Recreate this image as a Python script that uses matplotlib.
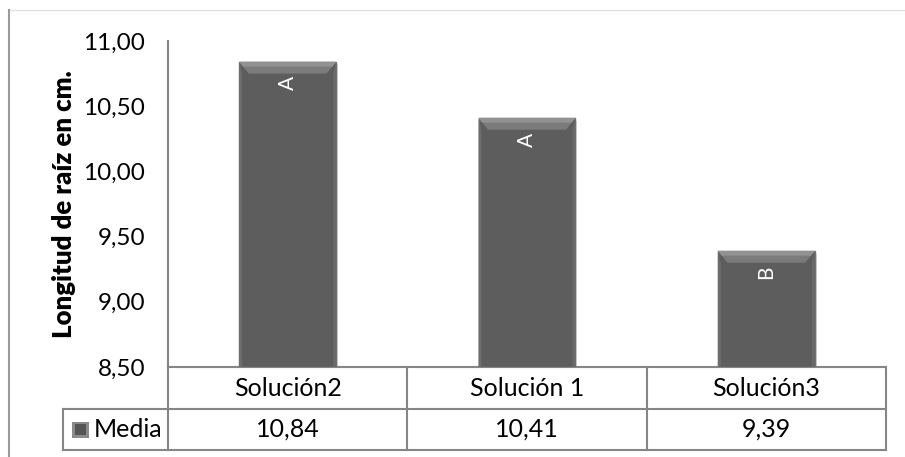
import matplotlib.pyplot as plt
import matplotlib as mpl
from matplotlib.patches import Polygon, Rectangle
from matplotlib.lines import Line2D

mpl.rc('font', family=['Lato', 'DejaVu Sans'], size=14)

categorias = ['Solución2', 'Solución 1', 'Solución3']
media = [10.84, 10.41, 9.39]
letras = ['A', 'A', 'B']
serie = 'Media'
yticks = [8.50, 9.00, 9.50, 10.00, 10.50, 11.00]

def coma(v):
    return ('%.2f' % v).replace('.', ',')

W, H = 905, 457
fig = plt.figure(figsize=(W / 100, H / 100), dpi=100)
ax = fig.add_axes([168 / W, (H - 367) / H, (886 - 168) / W, (367 - 41) / H])

x = list(range(len(categorias)))
ancho = 0.405
base = yticks[0]
bars = ax.bar(x, [m - base for m in media], width=ancho, bottom=base,
              color='#5d5d5d', edgecolor='#727272', linewidth=1.0, zorder=3)

# bisel superior y laterales de cada barra
bz_y = 0.09
bz_x = 0.04
for b in bars:
    x0, x1 = b.get_x(), b.get_x() + b.get_width()
    top = b.get_y() + b.get_height()
    ax.add_patch(Polygon([[x0, top], [x1, top], [x1 - bz_x, top - bz_y],
                          [x0 + bz_x, top - bz_y]], closed=True,
                         facecolor='#7b7b7b', edgecolor='none', zorder=4))
    ax.add_patch(Polygon([[x0, top], [x1, top], [x1 - bz_x * 0.4, top - bz_y * 0.4],
                          [x0 + bz_x * 0.4, top - bz_y * 0.4]], closed=True,
                         facecolor='#929292', edgecolor='none', zorder=4))
    ax.add_patch(Polygon([[x0, top], [x0 + bz_x * 0.3, top - bz_y],
                          [x0 + bz_x * 0.3, base], [x0, base]], closed=True,
                         facecolor='#6c6c6c', edgecolor='none', zorder=4))
    ax.add_patch(Polygon([[x1, top], [x1 - bz_x * 0.3, top - bz_y],
                          [x1 - bz_x * 0.3, base], [x1, base]], closed=True,
                         facecolor='#6a6a6a', edgecolor='none', zorder=4))
    ax.add_patch(Rectangle((x1, base), 0.008, top - base - 0.02,
                           facecolor='#d9d9d9', edgecolor='none', zorder=2))

for xi, m, l in zip(x, media, letras):
    ax.text(xi, m - 0.165, l, rotation=90, color='white', fontsize=15,
            ha='center', va='center', zorder=5)

ax.set_xlim(-0.5, len(categorias) - 0.5)
ax.set_ylim(base, yticks[-1])
ax.set_yticks(yticks)
ax.set_yticklabels([coma(t) for t in yticks])
ax.tick_params(axis='y', length=0, pad=16.5, labelsize=17.5)
ax.set_xticks([])
for s in ['top', 'right']:
    ax.spines[s].set_visible(False)
gris = '#868686'
ax.spines['left'].set_color(gris)
ax.spines['left'].set_linewidth(1.5)
ax.spines['bottom'].set_color(gris)
ax.spines['bottom'].set_linewidth(1.5)
ax.set_ylabel('Longitud de raíz en cm.', fontweight='heavy', fontsize=18.5, labelpad=5)

# tabla de datos bajo el eje
ph = 367 - 41
pw = 886 - 168
h1 = (409 - 367) / ph
h2 = (450 - 367) / ph
lab = (168 - 63) / pw
kw = dict(transform=ax.transAxes, color=gris, lw=1.5, clip_on=False)
ax.add_line(Line2D([0, 0], [0, -h2], **kw))
for i in range(1, len(categorias) + 1):
    ax.add_line(Line2D([i / 3, i / 3], [0, -h2], **kw))
ax.add_line(Line2D([-lab, 1], [-h1, -h1], **kw))
ax.add_line(Line2D([-lab, 1], [-h2, -h2], **kw))
ax.add_line(Line2D([-lab, -lab], [-h1, -h2], **kw))
for i, (c, m) in enumerate(zip(categorias, media)):
    ax.text((i + 0.5) / 3, -h1 / 2, c, transform=ax.transAxes,
            ha='center', va='center', fontsize=18)
    ax.text((i + 0.5) / 3, -(h1 + h2) / 2, coma(m), transform=ax.transAxes,
            ha='center', va='center', fontsize=18)
ax.text(-lab + 31 / pw, -(h1 + h2) / 2, serie, transform=ax.transAxes,
        ha='left', va='center', fontsize=18)
# clave de la serie
ax.add_patch(Rectangle((-lab + 9 / pw, -(h1 + h2) / 2 - 8 / ph), 17 / pw, 16 / ph,
                       transform=ax.transAxes, facecolor='#8a8a8a',
                       edgecolor='none', clip_on=False))
ax.add_patch(Rectangle((-lab + 12 / pw, -(h1 + h2) / 2 - 5 / ph), 11 / pw, 11 / ph,
                       transform=ax.transAxes, facecolor='#555555',
                       edgecolor='none', clip_on=False))

# marco exterior
fig.add_artist(Line2D([9 / W, 1], [1 - 10 / H, 1 - 10 / H], color='#e2e2e2', lw=1))
fig.add_artist(Line2D([9 / W, 9 / W], [0, 1 - 10 / H], color='#9a9a9a', lw=1.5))

fig.savefig('out.png', dpi=100)
